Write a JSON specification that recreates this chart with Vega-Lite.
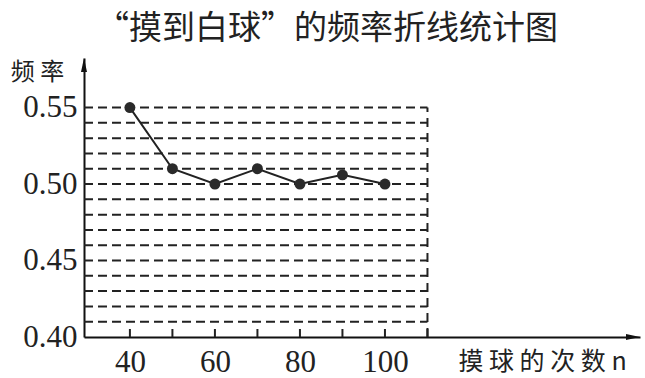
{
  "$schema": "https://vega.github.io/schema/vega-lite/v6.json",
  "width": 556,
  "height": 279,
  "autosize": "none",
  "padding": {"left": 84, "top": 58, "right": 5, "bottom": 41},
  "background": "white",
  "title": {
    "text": "“摸到白球”的频率折线统计图",
    "font": "Noto Sans CJK SC",
    "fontSize": 33,
    "fontWeight": "normal",
    "color": "#222",
    "anchor": "start",
    "frame": "group",
    "dx": 12,
    "offset": 12
  },
  "config": {"view": {"stroke": null}},
  "datasets": {
    "pts": [
      {"n": 40, "f": 0.55},
      {"n": 50, "f": 0.51},
      {"n": 60, "f": 0.50},
      {"n": 70, "f": 0.51},
      {"n": 80, "f": 0.50},
      {"n": 90, "f": 0.506},
      {"n": 100, "f": 0.50}
    ],
    "grid": [
      {"g": 0.41}, {"g": 0.42}, {"g": 0.43}, {"g": 0.44}, {"g": 0.45},
      {"g": 0.46}, {"g": 0.47}, {"g": 0.48}, {"g": 0.49}, {"g": 0.50},
      {"g": 0.51}, {"g": 0.52}, {"g": 0.53}, {"g": 0.54}, {"g": 0.55}
    ],
    "ticks": [
      {"t": 40}, {"t": 50}, {"t": 60}, {"t": 70}, {"t": 80}, {"t": 90}, {"t": 100}, {"t": 110}
    ],
    "one": [{"k": 1}]
  },
  "layer": [
    {
      "data": {"name": "grid"},
      "mark": {"type": "rule", "stroke": "#222", "strokeWidth": 2, "strokeDash": [9, 5]},
      "encoding": {
        "y": {
          "field": "g", "type": "quantitative",
          "scale": {"domain": [0.40, 0.5824], "nice": false, "zero": false},
          "axis": {
            "values": [0.40, 0.45, 0.50, 0.55],
            "format": ".2f",
            "ticks": false,
            "grid": false,
            "domainColor": "#111",
            "domainWidth": 2,
            "labelFont": "Liberation Serif",
            "labelFontSize": 31,
            "labelColor": "#222",
            "labelPadding": 7,
            "title": "频 率",
            "titleFont": "Noto Sans CJK SC",
            "titleFontSize": 24,
            "titleFontWeight": "normal",
            "titleColor": "#222",
            "titleAngle": 0,
            "titleAlign": "center",
            "titleBaseline": "middle",
            "titleX": -47,
            "titleY": 14
          }
        },
        "x": {"datum": 29.2, "type": "quantitative",
          "scale": {"domain": [29.2, 160], "nice": false, "zero": false},
          "axis": {
            "values": [40, 60, 80, 100],
            "ticks": false,
            "grid": false,
            "domainColor": "#111",
            "domainWidth": 2,
            "labelFont": "Liberation Serif",
            "labelFontSize": 31,
            "labelColor": "#222",
            "labelPadding": 10,
            "labelBaseline": "top",
            "title": "摸 球 的 次 数  n",
            "titleFont": "Noto Sans CJK SC",
            "titleFontSize": 25,
            "titleFontWeight": "normal",
            "titleColor": "#222",
            "titleAlign": "center",
            "titleBaseline": "middle",
            "titleX": 458,
            "titleY": 24
          }
        },
        "x2": {"datum": 110}
      }
    },
    {
      "data": {"name": "one"},
      "mark": {"type": "rule", "stroke": "#222", "strokeWidth": 2, "strokeDash": [9, 6]},
      "encoding": {
        "x": {"datum": 110, "type": "quantitative"},
        "y": {"datum": 0.40, "type": "quantitative"},
        "y2": {"datum": 0.55}
      }
    },
    {
      "data": {"name": "ticks"},
      "mark": {"type": "tick", "orient": "vertical", "color": "#222", "size": 8, "thickness": 2, "yOffset": -4, "opacity": 1},
      "encoding": {
        "x": {"field": "t", "type": "quantitative"},
        "y": {"datum": 0.40, "type": "quantitative"}
      }
    },
    {
      "data": {"name": "pts"},
      "mark": {"type": "line", "stroke": "#222", "strokeWidth": 2},
      "encoding": {
        "x": {"field": "n", "type": "quantitative"},
        "y": {"field": "f", "type": "quantitative"}
      }
    },
    {
      "data": {"name": "pts"},
      "mark": {"type": "point", "filled": true, "fill": "#2a2a2a", "size": 120, "opacity": 1, "shape": "circle"},
      "encoding": {
        "x": {"field": "n", "type": "quantitative"},
        "y": {"field": "f", "type": "quantitative"}
      }
    },
    {
      "data": {"name": "one"},
      "mark": {"type": "point", "filled": true, "fill": "#111", "opacity": 1, "size": 100, "clip": false, "shape": "M0,0L-0.6,2.8L0.6,2.8Z"},
      "encoding": {
        "x": {"datum": 29.2, "type": "quantitative"},
        "y": {"datum": 0.5824, "type": "quantitative"}
      }
    },
    {
      "data": {"name": "one"},
      "mark": {"type": "point", "filled": true, "fill": "#111", "opacity": 1, "size": 100, "clip": false, "shape": "M0,0L-2.8,-0.6L-2.8,0.6Z"},
      "encoding": {
        "x": {"datum": 160, "type": "quantitative"},
        "y": {"datum": 0.40, "type": "quantitative"}
      }
    }
  ]
}
